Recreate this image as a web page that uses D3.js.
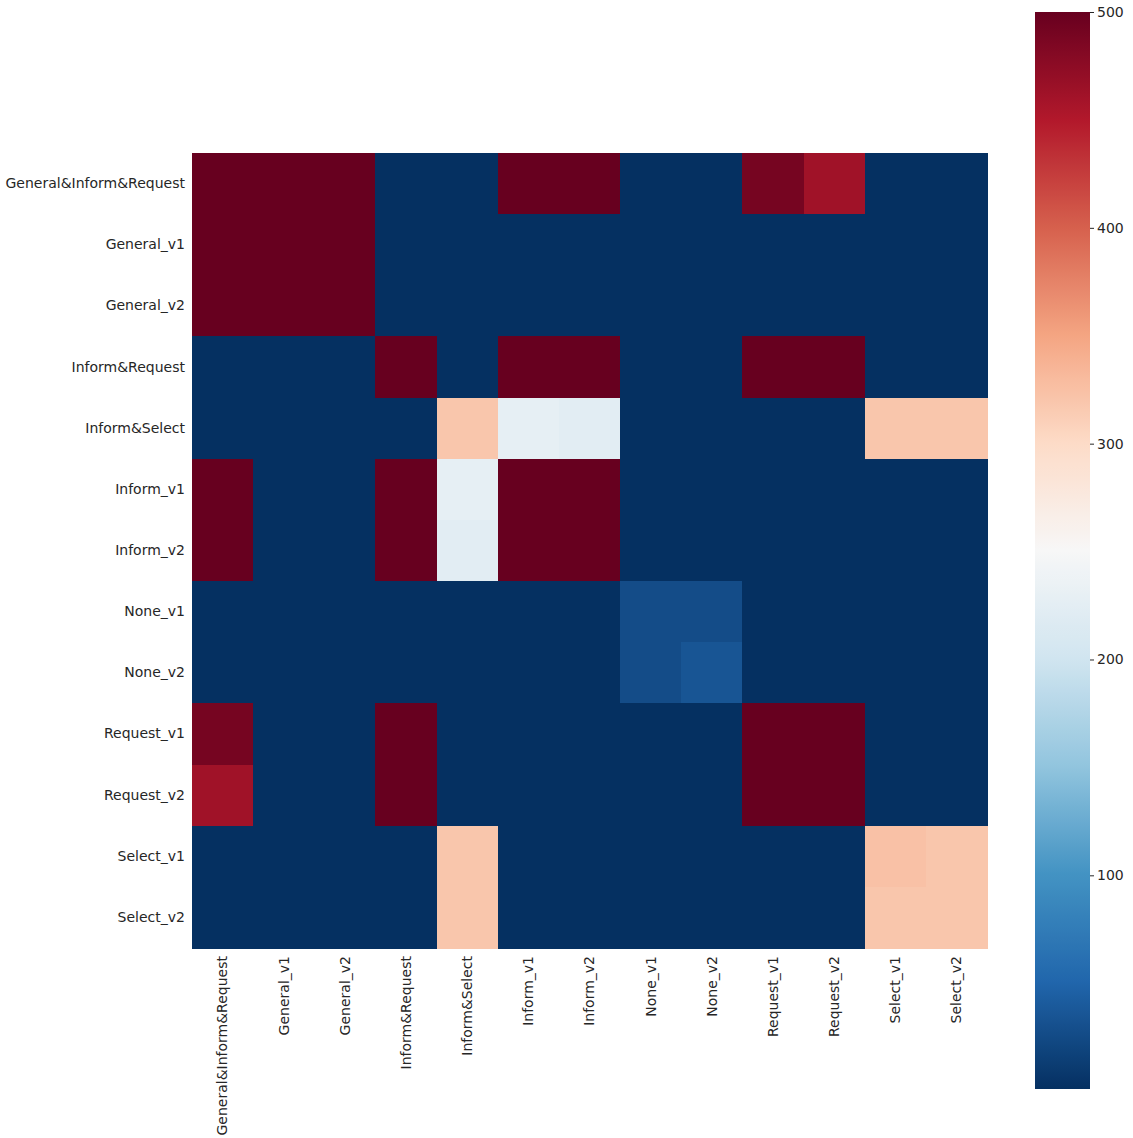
<!DOCTYPE html>
<html>
<head>
<meta charset="utf-8">
<script src="https://cdn.jsdelivr.net/npm/d3@7"></script>
<style>
  html, body { margin: 0; padding: 0; background: #ffffff; }
  svg text { font-family: "DejaVu Sans", sans-serif; fill: #262626; }
</style>
</head>
<body>
<svg id="chart" width="1133" height="1138"></svg>
<script>
// Category labels (shared by rows and columns)
const labels = [
  "General&Inform&Request", "General_v1", "General_v2", "Inform&Request",
  "Inform&Select", "Inform_v1", "Inform_v2", "None_v1", "None_v2",
  "Request_v1", "Request_v2", "Select_v1", "Select_v2"
];

// Matrix rows, one array per label
const rowGeneralInformRequest = [500, 500, 500, 1, 1, 500, 500, 1, 1, 490, 462, 1, 1];
const rowGeneralV1            = [500, 500, 500, 1, 1, 1, 1, 1, 1, 1, 1, 1, 1];
const rowGeneralV2            = [500, 500, 500, 1, 1, 1, 1, 1, 1, 1, 1, 1, 1];
const rowInformRequest        = [1, 1, 1, 500, 1, 500, 500, 1, 1, 500, 500, 1, 1];
const rowInformSelect         = [1, 1, 1, 1, 320, 228, 223, 1, 1, 1, 1, 320, 320];
const rowInformV1             = [500, 1, 1, 500, 228, 500, 500, 1, 1, 1, 1, 1, 1];
const rowInformV2             = [500, 1, 1, 500, 223, 500, 500, 1, 1, 1, 1, 1, 1];
const rowNoneV1               = [1, 1, 1, 1, 1, 1, 1, 27, 27, 1, 1, 1, 1];
const rowNoneV2               = [1, 1, 1, 1, 1, 1, 1, 27, 35, 1, 1, 1, 1];
const rowRequestV1            = [490, 1, 1, 500, 1, 1, 1, 1, 1, 500, 500, 1, 1];
const rowRequestV2            = [462, 1, 1, 500, 1, 1, 1, 1, 1, 500, 500, 1, 1];
const rowSelectV1             = [1, 1, 1, 1, 320, 1, 1, 1, 1, 1, 1, 324, 320];
const rowSelectV2             = [1, 1, 1, 1, 320, 1, 1, 1, 1, 1, 1, 320, 320];

const matrix = [
  rowGeneralInformRequest, rowGeneralV1, rowGeneralV2, rowInformRequest,
  rowInformSelect, rowInformV1, rowInformV2, rowNoneV1, rowNoneV2,
  rowRequestV1, rowRequestV2, rowSelectV1, rowSelectV2
];

// Colour bar ticks
const colorbarTicks = [100, 200, 300, 400, 500];

// Colour range limits
const vMin = 1;
const vMax = 500;

// Diverging red-blue palette (reversed: low = blue, high = red)
const rdbuR = ["#053061", "#2166ac", "#4393c3", "#92c5de", "#d1e5f0", "#f7f7f7",
               "#fddbc7", "#f4a582", "#d6604d", "#b2182b", "#67001f"];

const color = d3.scaleLinear()
  .domain(rdbuR.map((_, i) => vMin + (vMax - vMin) * i / (rdbuR.length - 1)))
  .range(rdbuR)
  .interpolate(d3.interpolateRgb)
  .clamp(true);

const svg = d3.select("#chart");

// Heatmap geometry
const hm = { left: 192, top: 153, size: 795 };

const x = d3.scaleBand().domain(labels).range([hm.left, hm.left + hm.size]);
const y = d3.scaleBand().domain(labels).range([hm.top, hm.top + hm.size]);

const cells = [];
matrix.forEach((row, i) => row.forEach((v, j) => cells.push({ r: labels[i], c: labels[j], v })));

svg.append("g")
  .selectAll("rect")
  .data(cells)
  .join("rect")
  .attr("x", d => x(d.c))
  .attr("y", d => y(d.r))
  .attr("width", x.bandwidth() + 0.5)
  .attr("height", y.bandwidth() + 0.5)
  .attr("fill", d => color(d.v))
  .attr("shape-rendering", "crispEdges");

// Axes (labels only, no tick marks or domain line)
const xAxis = svg.append("g")
  .attr("transform", `translate(0,${hm.top + hm.size})`)
  .call(d3.axisBottom(x).tickSize(0).tickPadding(0));
xAxis.select(".domain").remove();
xAxis.selectAll("text")
  .attr("font-size", 14)
  .attr("font-family", "DejaVu Sans, sans-serif")
  .attr("fill", "#262626")
  .attr("text-anchor", "end")
  .attr("dy", "0.35em")
  .attr("transform", "translate(0,8) rotate(-90)");

const yAxis = svg.append("g")
  .attr("transform", `translate(${hm.left},0)`)
  .call(d3.axisLeft(y).tickSize(0).tickPadding(7));
yAxis.select(".domain").remove();
yAxis.selectAll("text")
  .attr("font-size", 14)
  .attr("font-family", "DejaVu Sans, sans-serif")
  .attr("fill", "#262626");

// Colour bar
const cb = { left: 1035, top: 12, width: 55, bottom: 1089 };
const cbScale = d3.scaleLinear().domain([vMin, vMax]).range([cb.bottom, cb.top]);

const defs = svg.append("defs");
const grad = defs.append("linearGradient")
  .attr("id", "cbGrad")
  .attr("x1", 0).attr("y1", 1).attr("x2", 0).attr("y2", 0);
d3.range(0, 1.0001, 0.01).forEach(t => {
  grad.append("stop")
    .attr("offset", t)
    .attr("stop-color", color(vMin + t * (vMax - vMin)));
});

svg.append("rect")
  .attr("x", cb.left)
  .attr("y", cb.top)
  .attr("width", cb.width)
  .attr("height", cb.bottom - cb.top)
  .attr("fill", "url(#cbGrad)");

const cbAxis = svg.append("g")
  .attr("transform", `translate(${cb.left + cb.width},0)`)
  .call(d3.axisRight(cbScale).tickValues(colorbarTicks).tickSize(4).tickPadding(3).tickFormat(d3.format("d")));
cbAxis.select(".domain").remove();
cbAxis.selectAll("line").attr("stroke", "#262626").attr("stroke-width", 1);
cbAxis.selectAll("text")
  .attr("font-size", 14)
  .attr("font-family", "DejaVu Sans, sans-serif")
  .attr("fill", "#262626");
</script>
</body>
</html>
